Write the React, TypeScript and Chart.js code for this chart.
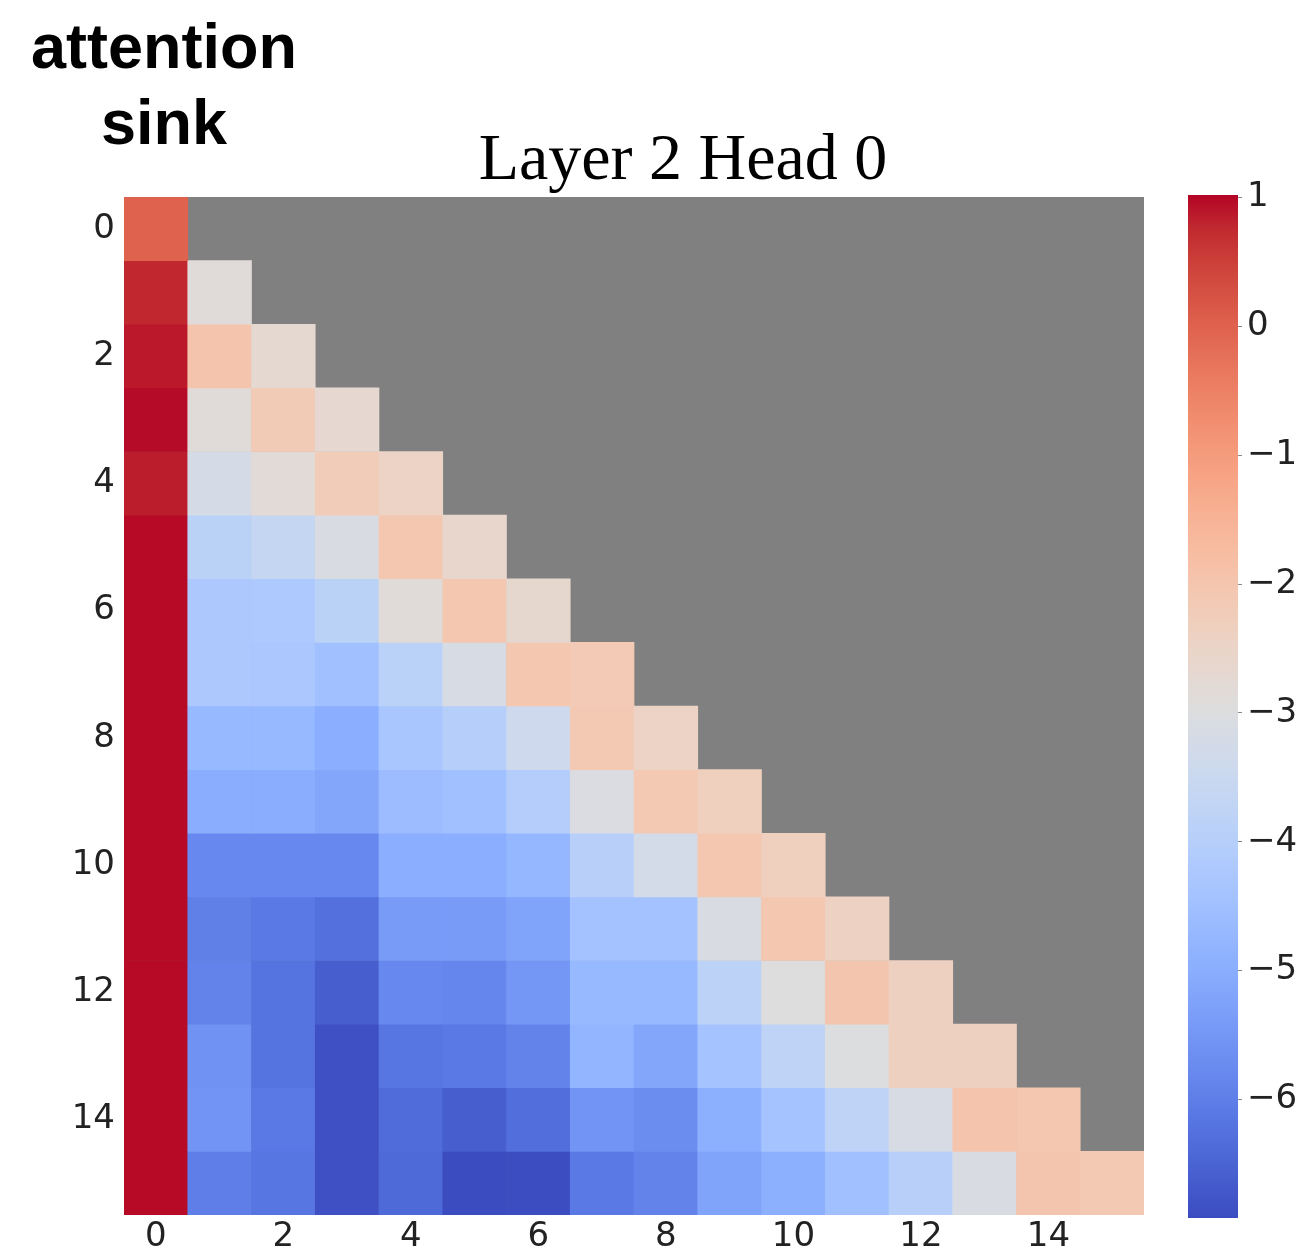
import React, { useEffect, useRef } from 'react';
import { Chart, registerables } from 'chart.js';

Chart.register(...registerables);

// ---------- data ----------
const TITLE = 'Layer 2 Head 0';
const ANNOTATION = ['attention', 'sink'];
const COLUMNS = ['0', '1', '2', '3', '4', '5', '6', '7', '8', '9', '10', '11', '12', '13', '14', '15'];
const Y_TICKS = [0, 2, 4, 6, 8, 10, 12, 14];
const CBAR_TICKS = [-6, -5, -4, -3, -2, -1, 0, 1];
const VMIN = -6.92;
const VMAX = 1.02;

const row0 = [0.0];
const row1 = [0.78, -2.87];
const row2 = [0.88, -1.96, -2.7];
const row3 = [0.97, -2.85, -2.16, -2.68];
const row4 = [0.85, -3.19, -2.8, -2.2, -2.47];
const row5 = [0.98, -3.86, -3.62, -3.1, -2.04, -2.6];
const row6 = [0.98, -4.22, -4.2, -3.86, -2.85, -2.05, -2.65];
const row7 = [0.98, -4.22, -4.25, -4.5, -3.9, -3.15, -2.05, -2.15];
const row8 = [0.98, -4.7, -4.7, -4.97, -4.3, -4.0, -3.4, -2.1, -2.45];
const row9 = [0.98, -5.0, -5.0, -5.17, -4.6, -4.5, -4.05, -3.05, -2.1, -2.3];
const row10 = [0.98, -5.8, -5.8, -5.8, -4.97, -4.97, -4.75, -3.95, -3.25, -2.05, -2.3];
const row11 = [0.98, -5.97, -6.1, -6.28, -5.4, -5.4, -5.2, -4.45, -4.45, -3.1, -2.05, -2.4];
const row12 = [0.98, -5.9, -6.2, -6.6, -5.8, -5.85, -5.5, -4.7, -4.7, -3.85, -2.95, -2.0, -2.35];
const row13 = [0.98, -5.6, -6.2, -6.85, -6.15, -6.1, -5.9, -4.8, -5.15, -4.4, -3.8, -3.0, -2.35, -2.35];
const row14 = [0.98, -5.55, -6.1, -6.85, -6.35, -6.6, -6.3, -5.55, -5.7, -4.95, -4.4, -3.8, -3.15, -1.95, -2.05];
const row15 = [0.98, -6.0, -6.15, -6.85, -6.4, -6.92, -6.9, -6.1, -5.9, -5.2, -4.95, -4.5, -3.95, -3.1, -2.0, -2.1];
const MATRIX = [row0, row1, row2, row3, row4, row5, row6, row7, row8, row9, row10, row11, row12, row13, row14, row15];

// ---------- colormap (coolwarm) ----------
const COOLWARM: number[][] = [
  [59, 76, 192], [68, 90, 204], [77, 104, 215], [87, 117, 225], [98, 130, 234], [108, 142, 241],
  [119, 154, 247], [130, 165, 251], [141, 176, 254], [152, 185, 255], [163, 194, 255], [174, 201, 253],
  [184, 208, 249], [194, 213, 244], [204, 217, 238], [213, 219, 230], [221, 221, 221], [229, 216, 209],
  [236, 211, 197], [241, 204, 184], [245, 196, 172], [247, 187, 160], [247, 177, 148], [247, 166, 135],
  [244, 154, 123], [241, 141, 111], [236, 127, 99], [229, 112, 88], [222, 96, 77], [213, 80, 66],
  [203, 62, 56], [192, 40, 47], [180, 4, 38],
];

function cmap(v: number): string {
  let s = (v - VMIN) / (VMAX - VMIN);
  s = Math.max(0, Math.min(1, s));
  const pos = s * (COOLWARM.length - 1);
  const i0 = Math.floor(pos);
  const i1 = Math.min(COOLWARM.length - 1, i0 + 1);
  const f = pos - i0;
  const c = COOLWARM[i0].map((a, k) => Math.round(a + (COOLWARM[i1][k] - a) * f));
  return `rgb(${c[0]},${c[1]},${c[2]})`;
}

const TICK_FONT = { family: "'DejaVu Sans', sans-serif", size: 34 };
const TICK_COLOR = '#222';

const grayBg = {
  id: 'grayBg',
  beforeDatasetsDraw(chart: any) {
    const { ctx, chartArea } = chart;
    ctx.save();
    ctx.fillStyle = '#808080';
    ctx.fillRect(chartArea.left, chartArea.top, chartArea.right - chartArea.left, chartArea.bottom - chartArea.top);
    ctx.restore();
  },
};

export default function App() {
  const mainRef = useRef<HTMLCanvasElement>(null);
  const cbarRef = useRef<HTMLCanvasElement>(null);

  useEffect(() => {
    const datasets = MATRIX.map((row, i) => ({
      label: `row ${i}`,
      data: COLUMNS.map((_, j) => (j < row.length ? [i - 0.5, i + 0.5] : null)),
      backgroundColor: COLUMNS.map((_, j) => (j < row.length ? cmap(row[j]) : 'rgba(0,0,0,0)')),
      borderWidth: 0,
      barPercentage: 1,
      categoryPercentage: 1,
      grouped: false,
    }));

    const main = new Chart(mainRef.current as HTMLCanvasElement, {
      type: 'bar',
      data: { labels: COLUMNS, datasets: datasets as any },
      plugins: [grayBg],
      options: {
        responsive: false,
        animation: false,
        layout: { padding: 0 },
        plugins: {
          legend: { display: false },
          tooltip: { enabled: false },
          title: {
            display: true,
            text: TITLE,
            color: '#000',
            font: { family: "'Liberation Serif', 'Times New Roman', serif", size: 66, weight: 'normal', lineHeight: 1 },
            padding: { top: 129, bottom: 2 },
          },
        },
        scales: {
          x: {
            type: 'category',
            offset: true,
            grid: { display: false, drawTicks: false },
            border: { display: false },
            ticks: {
              autoSkip: false,
              maxRotation: 0,
              minRotation: 0,
              padding: 2,
              color: TICK_COLOR,
              font: TICK_FONT,
              callback: function (this: any, val: any, idx: number) {
                return idx % 2 === 0 ? this.getLabelForValue(val) : '';
              },
            },
            afterFit(s: any) {
              s.height = 44;
            },
          },
          y: {
            type: 'linear',
            reverse: true,
            min: -0.5,
            max: 15.5,
            grid: { display: false, drawTicks: false },
            border: { display: false },
            afterBuildTicks(s: any) {
              s.ticks = Y_TICKS.map((v) => ({ value: v }));
            },
            ticks: { padding: 9, color: TICK_COLOR, font: TICK_FONT },
            afterFit(s: any) {
              s.width = 61;
            },
          },
          spacer: {
            type: 'linear',
            position: 'right',
            grid: { display: false, drawTicks: false },
            border: { display: false },
            ticks: { display: false },
            afterFit(s: any) {
              s.width = 159;
            },
          },
        },
      } as any,
    });

    const cbar = new Chart(cbarRef.current as HTMLCanvasElement, {
      type: 'bar',
      data: {
        labels: ['colorbar'],
        datasets: [
          {
            label: 'colorbar',
            data: [[VMIN, VMAX]] as any,
            backgroundColor: (ctx: any) => {
              const chart = ctx.chart;
              if (!chart.chartArea) return '#ddd';
              const y = chart.scales.y;
              const g = chart.ctx.createLinearGradient(0, y.getPixelForValue(VMIN), 0, y.getPixelForValue(VMAX));
              COOLWARM.forEach((c, k) => g.addColorStop(k / (COOLWARM.length - 1), `rgb(${c[0]},${c[1]},${c[2]})`));
              return g;
            },
            borderWidth: 0,
            barPercentage: 1,
            categoryPercentage: 1,
          },
        ],
      },
      options: {
        responsive: false,
        animation: false,
        layout: { padding: { left: 38, right: 0, top: 195, bottom: 41 } },
        plugins: { legend: { display: false }, tooltip: { enabled: false } },
        scales: {
          x: { display: false, offset: true },
          y: {
            position: 'right',
            min: VMIN,
            max: VMAX,
            grid: { display: true, drawOnChartArea: false, drawTicks: true, tickLength: 4, color: '#888' },
            border: { display: false },
            afterBuildTicks(s: any) {
              s.ticks = CBAR_TICKS.map((v) => ({ value: v }));
            },
            ticks: {
              padding: 5,
              color: TICK_COLOR,
              font: TICK_FONT,
              callback: (v: any) => (Number(v) < 0 ? '\u2212' + Math.abs(Number(v)) : String(v)),
            },
            afterFit(s: any) {
              s.width = 65;
            },
          },
        },
      } as any,
    });

    return () => {
      main.destroy();
      cbar.destroy();
    };
  }, []);

  return (
    <div
      style={{
        position: 'absolute',
        left: 0,
        top: 0,
        width: 1303,
        height: 1259,
        background: '#fff',
        overflow: 'hidden',
      }}
    >
      <div
        style={{
          position: 'absolute',
          left: 14,
          top: 8,
          width: 300,
          textAlign: 'center',
          fontFamily: "'Liberation Sans', Arial, sans-serif",
          fontWeight: 'bold',
          fontSize: 63,
          lineHeight: '76px',
          color: '#000',
        }}
      >
        {ANNOTATION.map((t) => (
          <div key={t}>{t}</div>
        ))}
      </div>
      <canvas
        ref={mainRef}
        width={1240}
        height={1259}
        style={{ position: 'absolute', left: 63, top: 0, width: 1240, height: 1259 }}
      />
      <canvas
        ref={cbarRef}
        width={153}
        height={1259}
        style={{ position: 'absolute', left: 1150, top: 0, width: 153, height: 1259 }}
      />
    </div>
  );
}
